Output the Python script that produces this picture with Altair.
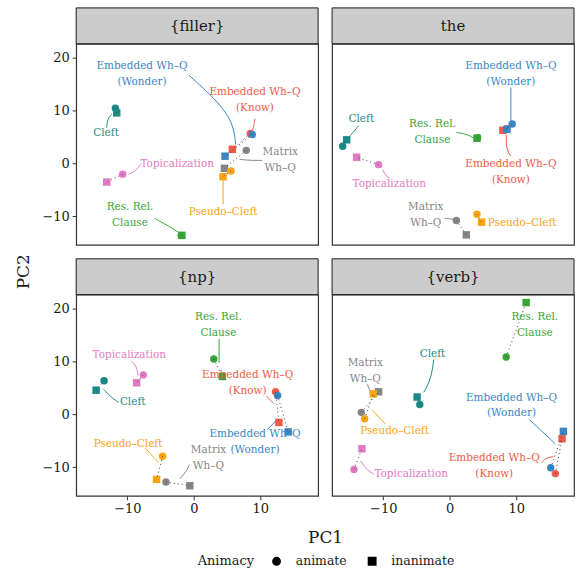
import altair as alt
import pandas as pd

FONT = "DejaVu Serif"

# ---------------- data ----------------
panels = ["{filler}", "the", "{np}", "{verb}"]
constructions = ["Cleft", "Embedded Wh–Q (Know)", "Embedded Wh–Q (Wonder)",
                 "Matrix Wh–Q", "Pseudo–Cleft", "Res. Rel. Clause", "Topicalization"]
label_texts = ["Cleft", "Embedded Wh–Q\n(Know)", "Embedded Wh–Q\n(Wonder)",
               "Matrix\nWh–Q", "Pseudo–Cleft", "Res. Rel.\nClause", "Topicalization"]
colors = ["#1b8a86", "#ef5b47", "#3a86c2", "#858585", "#fca311", "#36a536", "#e27ac3"]
animacy = ["animate", "inanimate"]

# one row per panel, values in construction order
pc1_animate = [
    [-11.8, 8.5, 8.8, 7.9, 5.6, -1.9, -10.7],
    [-16.1, 8.6, 9.4, 1.0, 4.1, 4.2, -10.7],
    [-13.5, 12.3, 12.6, -4.2, -4.7, 3.0, -7.6],
    [-4.5, 15.9, 15.2, -13.3, -12.8, 8.5, -14.4],
]
pc2_animate = [
    [10.5, 5.7, 5.5, 2.5, -1.4, -13.6, -2.0],
    [3.3, 6.6, 7.5, -10.8, -9.6, 4.9, -0.2],
    [6.4, 4.3, 3.6, -12.8, -7.9, 10.5, 7.5],
    [1.9, -11.2, -10.1, 0.4, -0.8, 10.9, -10.4],
]
pc1_inanimate = [
    [-11.6, 5.8, 4.7, 4.6, 4.4, -1.8, -13.1],
    [-15.5, 8.0, 8.6, 2.5, 4.8, 4.1, -14.0],
    [-14.7, 12.8, 14.2, -0.6, -5.6, 4.3, -8.6],
    [-4.9, 16.9, 17.1, -10.7, -11.5, 11.5, -13.2],
]
pc2_inanimate = [
    [9.6, 2.7, 1.4, -0.9, -2.5, -13.6, -3.5],
    [4.5, 6.3, 6.5, -13.5, -11.1, 4.8, 1.2],
    [4.6, -1.5, -3.3, -13.5, -12.3, 7.2, 6.0],
    [3.3, -4.6, -3.2, 4.3, 3.9, 21.2, -6.5],
]

# repelled label positions (data units, centre of the text block)
label_pc1 = [
    [-13.2, 9.2, -7.8, 13.0, 4.4, -9.6, -2.5],
    [-13.3, 9.2, 9.2, -3.6, 10.9, -2.6, -9.1],
    [-9.2, 8.1, 9.2, 2.2, -9.9, 3.7, -9.7],
    [-2.6, 6.7, 9.3, -12.7, -8.3, 12.8, -5.8],
]
label_pc2 = [
    [5.7, 12.0, 17.0, 0.6, -9.1, -9.8, 0.0],
    [8.4, -1.6, 17.0, -9.7, -11.2, 6.0, -3.9],
    [2.3, 6.0, -5.3, -8.2, -5.6, 16.9, 11.2],
    [11.5, -9.8, 1.7, 8.3, -3.1, 16.9, -11.3],
]

# leader segments from label to point (data units)
leader_pc1 = [
    [[-13.1, -13.0, -12.3], [9.2, 9.0, 8.8], [-0.7, 5.8, 6.3], [10.3, 8.4, 6.9],
     [4.4, 4.4], [-5.9, -4.1, -2.3], [-7.9, -8.8, -9.8]],
    [[-13.7, -14.4, -15.1], [9.2, 8.5, 8.5], [9.2, 9.2], [-0.8, 0.25, 0.9],
     [], [1.0, 2.5, 3.5], [-9.0, -9.7, -10.1]],
    [[-11.3, -12.3, -13.6], [10.9, 12.0], [11.1, 12.6], [-0.7, -1.0, -2.1],
     [-7.3, -5.3], [3.8, 3.8], [-9.4, -8.6, -8.4]],
    [[-2.4, -2.8, -3.9], [13.8, 14.4, 15.6], [12.0, 14.1, 15.9], [-12.4, -11.9],
     [-9.7, -11.6], [], [-11.4, -12.4, -13.4]],
]
leader_pc2 = [
    [[6.8, 8.5, 9.4], [8.5, 7.0, 6.2], [16.7, 9.3, 3.6], [0.6, 0.6, 0.8],
     [-7.7, -3.2], [-10.4, -11.6, -13.0], [0.0, -1.5, -2.0]],
    [[7.2, 6.1, 5.1], [1.4, 2.7, 5.5], [14.4, 7.8], [-10.4, -10.4, -10.9],
     [], [5.9, 5.6, 4.9], [-2.8, -2.2, -1.1]],
    [[2.3, 3.1, 4.8], [3.5, 2.1], [-2.8, -0.9], [-9.5, -10.6, -12.2],
     [-6.4, -9.1], [14.3, 9.8], [10.2, 9.1, 7.4]],
    [[10.4, 6.7, 4.2], [-9.2, -8.2, -8.0], [-1.0, -3.4, -5.6], [5.7, 4.2],
     [-1.8, 0.8], [], [-11.3, -10.6, -8.8]],
]

# ---------------- layout / style ----------------
W, H = 243, 202
XD = [-17.7, 18.7]
YD = [-15.4, 22.7]
color_scale = alt.Scale(domain=constructions, range=colors)
shape_scale = alt.Scale(domain=animacy, range=["circle", "square"])


def make_panel(p):
    row, col = divmod(p, 2)
    pts = []
    for c, name in enumerate(constructions):
        pts.append(dict(construction=name, animacy="animate",
                        pc1=pc1_animate[p][c], pc2=pc2_animate[p][c]))
        pts.append(dict(construction=name, animacy="inanimate",
                        pc1=pc1_inanimate[p][c], pc2=pc2_inanimate[p][c]))
    pts = pd.DataFrame(pts)
    labs = pd.DataFrame(dict(construction=constructions, text=label_texts,
                             lx=label_pc1[p], ly=label_pc2[p]))
    labs["two"] = labs["text"].str.contains("\n")
    segs = []
    for c, name in enumerate(constructions):
        for k, (sx, sy) in enumerate(zip(leader_pc1[p][c], leader_pc2[p][c])):
            segs.append(dict(construction=name, seq=k, sx=sx, sy=sy))
    segs = pd.DataFrame(segs)
    strip = pd.DataFrame(dict(panel=[panels[p]]))

    if row == 1:
        xaxis = alt.Axis(values=[-10, 0, 10], title="PC1" if col == 0 else None,
                         titleX=250, titleY=42, titleBaseline="middle",
                         titleFontSize=17, titleFontWeight="normal")
    else:
        xaxis = None
    if col == 0:
        yaxis = alt.Axis(values=[-10, 0, 10, 20], title="PC2" if row == 0 else None,
                         titleX=-53, titleY=228.5, titleBaseline="middle",
                         titleAlign="center", titleAngle=270,
                         titleFontSize=17, titleFontWeight="normal")
    else:
        yaxis = None

    X = lambda f: alt.X(f, type="quantitative", scale=alt.Scale(domain=XD, nice=False, zero=False), axis=xaxis)
    Y = lambda f: alt.Y(f, type="quantitative", scale=alt.Scale(domain=YD, nice=False, zero=False), axis=yaxis)

    strip_rect = alt.Chart(strip).mark_rect(fill="#cccccc", stroke="#1a1a1a", strokeWidth=1).encode(
        x=alt.value(0), x2=alt.value(W), y=alt.value(-36), y2=alt.value(0))
    strip_text = alt.Chart(strip).mark_text(font=FONT, fontSize=15, color="#1a1a1a").encode(
        x=alt.value(W / 2), y=alt.value(-18), text="panel:N")

    leaders = alt.Chart(segs).mark_line(strokeWidth=1, interpolate="basis").encode(
        x=X("sx"), y=Y("sy"),
        color=alt.Color("construction:N", scale=color_scale, legend=None),
        detail="construction:N", order="seq:O")

    points = alt.Chart(pts).mark_point(filled=True, opacity=1, size=56).encode(
        x=X("pc1"), y=Y("pc2"),
        color=alt.Color("construction:N", scale=color_scale, legend=None),
        shape=alt.Shape("animacy:N", scale=shape_scale, legend=alt.Legend(
            title="Animacy", orient="none", legendX=122, legendY=513.5,
            direction="horizontal", titleOrient="left", titleFontSize=13,
            titleFontWeight="normal", titleFont=FONT, labelFont=FONT,
            labelFontSize=12.5, labelColor="#1a1a1a", titleColor="#1a1a1a",
            symbolFillColor="black", symbolStrokeColor="black",
            symbolSize=55, columnPadding=18, titlePadding=16, labelOffset=13)))

    dots = alt.Chart(pts).mark_line(strokeDash=[1, 3], strokeWidth=1, color="#444444").encode(
        x=X("pc1"), y=Y("pc2"), detail="construction:N", order="animacy:N")

    lab_enc = dict(x=X("lx"), y=Y("ly"), text="text:N",
                   color=alt.Color("construction:N", scale=color_scale, legend=None))
    labels1 = alt.Chart(labs).transform_filter("!datum.two").mark_text(
        font=FONT, fontSize=10.5).encode(**lab_enc)
    labels2 = alt.Chart(labs).transform_filter("datum.two").mark_text(
        font=FONT, fontSize=10.5, lineBreak="\n", lineHeight=16, dy=-8).encode(**lab_enc)

    return alt.layer(strip_rect, strip_text, leaders, points, dots, labels1, labels2).properties(width=W, height=H)


chart = alt.ConcatChart(
    concat=[make_panel(i) for i in range(4)],
    columns=2,
    spacing={"row": 50, "column": 14},
    bounds="flush",
    padding={"left": 13.5, "top": 4.7, "right": 0, "bottom": 0},
    background="white",
).configure_view(stroke="#333333", strokeWidth=1.2
).configure_axis(
    grid=False, domain=False, tickColor="#333333", tickSize=4, tickWidth=1,
    labelFont=FONT, titleFont=FONT, labelFontSize=13, labelColor="#1a1a1a",
    titleColor="#1a1a1a", labelPadding=3
)

chart.save("out.html", embed_options={"renderer": "svg", "actions": False})
